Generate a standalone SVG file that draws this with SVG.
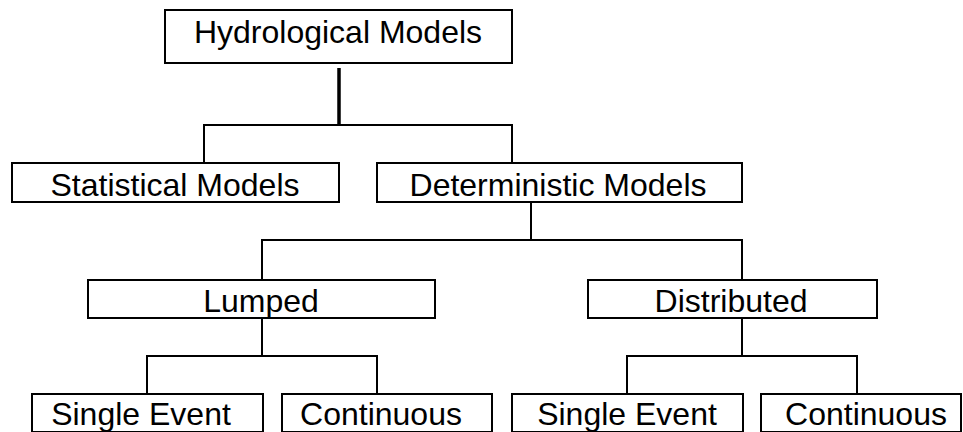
<svg xmlns="http://www.w3.org/2000/svg" width="963" height="432" viewBox="0 0 963 432">
<style>
.box{fill:#fff;stroke:#000;stroke-width:2}
.lbl{font-family:"Liberation Sans",Arial,sans-serif;font-size:32px;fill:#000;text-anchor:middle}
.con{fill:none;stroke:#000;stroke-width:2}
</style>
<rect width="963" height="432" fill="#fff"/>
<g id="connectors">
<line x1="339" y1="68" x2="339" y2="125" stroke="#000" stroke-width="3.5"/>
<polyline class="con" points="204,163 204,125 512,125 512,163"/>
<line class="con" x1="531" y1="202" x2="531" y2="240"/>
<polyline class="con" points="262,280 262,240 742,240 742,280"/>
<line class="con" x1="262" y1="318" x2="262" y2="356"/>
<polyline class="con" points="147,394 147,356 377,356 377,394"/>
<line class="con" x1="742" y1="318" x2="742" y2="356"/>
<polyline class="con" points="627,394 627,356 857,356 857,394"/>
</g>
<g id="hydrological">
<rect class="box" x="165" y="10" width="347" height="53"/>
<text class="lbl" x="338" y="43">Hydrological Models</text>
</g>
<g id="statistical">
<rect class="box" x="12" y="163" width="327" height="39"/>
<text class="lbl" x="175" y="196">Statistical Models</text>
</g>
<g id="deterministic">
<rect class="box" x="377" y="163" width="365" height="39"/>
<text class="lbl" x="558" y="196">Deterministic Models</text>
</g>
<g id="lumped">
<rect class="box" x="88" y="280" width="347" height="38"/>
<text class="lbl" x="261" y="312">Lumped</text>
</g>
<g id="distributed">
<rect class="box" x="588" y="280" width="289" height="38"/>
<text class="lbl" x="731" y="312">Distributed</text>
</g>
<g id="lumped-single">
<rect class="box" x="32" y="394" width="231" height="38"/>
<text class="lbl" x="141" y="425">Single Event</text>
</g>
<g id="lumped-continuous">
<rect class="box" x="282" y="394" width="210" height="38"/>
<text class="lbl" x="381" y="425">Continuous</text>
</g>
<g id="distributed-single">
<rect class="box" x="512" y="394" width="231" height="38"/>
<text class="lbl" x="627" y="425">Single Event</text>
</g>
<g id="distributed-continuous">
<rect class="box" x="761" y="394" width="200" height="38"/>
<text class="lbl" x="866" y="425">Continuous</text>
</g>
</svg>
